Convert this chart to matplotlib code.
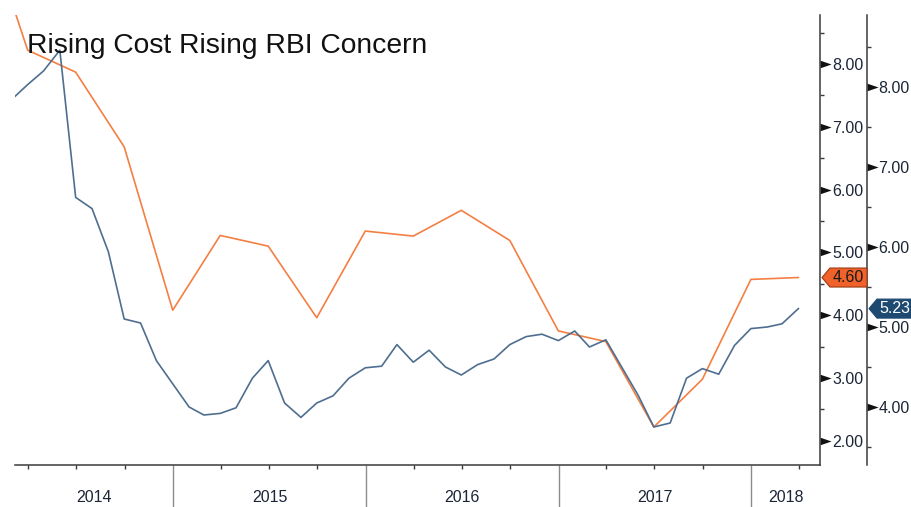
import matplotlib
matplotlib.use("Agg")
import matplotlib.pyplot as plt
import matplotlib.dates as mdates
import pandas as pd
from matplotlib.patches import Polygon
from matplotlib.path import Path
from matplotlib.ticker import FormatStrFormatter, MultipleLocator
from matplotlib.transforms import blended_transform_factory

plt.rcParams["font.family"] = ["Liberation Sans", "DejaVu Sans"]

TITLE = "Rising Cost Rising RBI Concern"

# monthly series (blue, outer right axis), Feb 2014 .. Mar 2018
blue_dates = pd.date_range("2014-02-28", "2018-03-31", freq="ME")
blue_vals = [
    7.84, 8.03, 8.20, 8.46, 6.62, 6.48, 5.94, 5.10, 5.05, 4.58, 4.29,
    4.00, 3.90, 3.92, 3.99, 4.36, 4.58, 4.05, 3.87, 4.05, 4.14, 4.36,
    4.49, 4.51, 4.78, 4.56, 4.71, 4.50, 4.40, 4.53, 4.60, 4.78, 4.88,
    4.91, 4.83, 4.95, 4.75, 4.84, 4.50, 4.15, 3.75, 3.80, 4.36, 4.48,
    4.41, 4.77, 4.98, 5.00, 5.04, 5.23,
]

# quarterly series (orange, inner right axis), Q4 2013 .. Q1 2018
orange_dates = pd.date_range("2013-12-31", "2018-03-31", freq="QE")
orange_vals = [
    10.5, 8.22, 7.87, 6.68, 4.08, 5.27, 5.10, 3.96, 5.34, 5.26,
    5.67, 5.19, 3.75, 3.58, 2.22, 2.98, 4.57, 4.60,
]

years = [2014, 2015, 2016, 2017, 2018]
orange_ticks = [2, 3, 4, 5, 6, 7, 8]
blue_ticks = [4, 5, 6, 7, 8]

ORANGE = "#f47f43"
BLUE = "#4f6e8f"
INK = "#1b2536"
SPINE = "#3a3a3a"

W, H = 912, 507
fig = plt.figure(figsize=(W / 100, H / 100), dpi=100)
ax = fig.add_axes([15 / W, 42 / H, 805 / W, 450 / H])
ax2 = ax.twinx()
outer_x = 852 / 805

ax.plot(orange_dates, orange_vals, color=ORANGE, lw=1.2)
ax2.plot(blue_dates, blue_vals, color=BLUE, lw=1.2)

xmin, xmax = pd.Timestamp("2014-03-07"), pd.Timestamp("2018-05-11")
ax.set_xlim(xmin, xmax)
ax.set_ylim(1.615, 8.78)
ax2.set_ylim(3.275, 8.9)

for s in ["left", "top"]:
    ax.spines[s].set_visible(False)
for s in ["left", "top", "bottom"]:
    ax2.spines[s].set_visible(False)
for s in ["right", "bottom"]:
    ax.spines[s].set_color(SPINE)
    ax.spines[s].set_linewidth(1.1)
ax2.spines["right"].set_position(("axes", outer_x))
ax2.spines["right"].set_color(SPINE)
ax2.spines["right"].set_linewidth(1.1)

# y axes: arrow-like major ticks, small minor ticks
ax.yaxis.tick_right()
for a, ticks, pad in [(ax, orange_ticks, 9.0), (ax2, blue_ticks, 8.3)]:
    a.set_yticks(ticks)
    a.yaxis.set_major_formatter(FormatStrFormatter("%.2f"))
    a.yaxis.set_minor_locator(MultipleLocator(0.5))
    a.tick_params(axis="y", which="major", length=0, pad=pad,
                  labelsize=11.5, labelcolor=INK)
    a.tick_params(axis="y", which="minor", length=3, width=1, color=SPINE)

tri = Path([(0, -0.34), (1, 0), (0, 0.34), (0, -0.34)],
           [Path.MOVETO, Path.LINETO, Path.LINETO, Path.CLOSEPOLY])
for a, ticks, xpos in [(ax, orange_ticks, 1.0), (ax2, blue_ticks, outer_x)]:
    tr = blended_transform_factory(a.transAxes, a.transData)
    a.plot([xpos] * len(ticks), ticks, transform=tr, ls="none", marker=tri,
           ms=16, color="#111111", mew=0, clip_on=False)

# x axis: quarter ticks, year separators, year labels centred in each span
ax.xaxis.set_major_locator(mdates.YearLocator())
ax.xaxis.set_minor_locator(mdates.MonthLocator(bymonth=[4, 7, 10]))
ax.tick_params(axis="x", which="major", length=30, width=1, color="#8c8c8c",
               labelbottom=False)
ax.tick_params(axis="x", which="minor", length=3, width=1, color=SPINE)

xtr = blended_transform_factory(ax.transData, ax.transAxes)
for yr in years:
    lo = max(pd.Timestamp(f"{yr}-01-01"), xmin)
    hi = min(pd.Timestamp(f"{yr + 1}-01-01"), xmax)
    mid = mdates.date2num(lo) + (mdates.date2num(hi) - mdates.date2num(lo)) / 2
    ax.text(mid, -0.073, str(yr), transform=xtr, ha="center", va="center",
            fontsize=11.5, color=INK)

fig.text(27 / W, (H - 53) / H, TITLE, fontsize=20.3, color="#111111",
         ha="left", va="baseline")


# last-value tags on each axis
def add_tag(a, xpos, value, face, edge, txt_color, right_px):
    x0 = a.transAxes.transform((xpos, 0))[0]
    y0 = a.transData.transform((0, value))[1]
    pts = [(x0 + 2, y0), (x0 + 10, y0 + 9.5), (x0 + right_px, y0 + 9.5),
           (x0 + right_px, y0 - 9.5), (x0 + 10, y0 - 9.5)]
    inv = fig.transFigure.inverted()
    poly = Polygon(inv.transform(pts), closed=True, transform=fig.transFigure,
                   facecolor=face, edgecolor=edge, lw=0.8, zorder=10)
    fig.add_artist(poly)
    cx, cy = inv.transform(((x0 + 10 + min(x0 + right_px, W)) / 2, y0))
    fig.text(cx, cy, f"{value:.2f}", color=txt_color, fontsize=11.5,
             ha="center", va="center", zorder=11)


add_tag(ax, 1.0, orange_vals[-1], "#f0622a", "#9a3a12", "#1a1a1a", 47)
add_tag(ax2, outer_x, blue_vals[-1], "#1e4a72", "#1e4a72", "white", 60)

fig.savefig("out.png", dpi=100)
